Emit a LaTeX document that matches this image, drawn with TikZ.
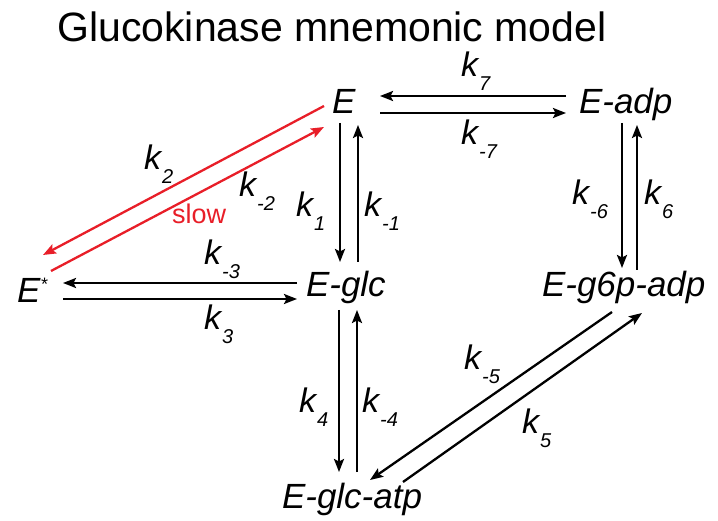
\documentclass[tikz,border=0pt]{standalone}
\usepackage{fontspec}
\setmainfont{Liberation Sans}
\usetikzlibrary{arrows.meta}
\definecolor{slowred}{RGB}{232,30,40}
\newcommand\ksub[1]{\kern1pt\raisebox{-14pt}{\fontsize{20}{20}\selectfont #1}}
\tikzset{
  species/.style={anchor=base west, inner sep=0pt, outer sep=0pt, font=\fontsize{35}{35}\selectfont\itshape},
  klab/.style={anchor=base west, inner sep=0pt, font=\fontsize{34}{34}\selectfont\itshape},
  arr/.style={line width=2.3pt, -{Stealth[length=13pt,width=10pt,inset=2.5pt]}},
  redarr/.style={arr, draw=slowred}
}
\begin{document}
\begin{tikzpicture}[x=1pt,y=-1pt]
\useasboundingbox (0,0) rectangle (718,521);
\node[anchor=base, inner sep=0pt, font=\fontsize{41}{41}\selectfont] (title) at (332,42) {Glucokinase mnemonic model};
% species
\node[species] (E) at (332,114) {E};
\node[species] (Eadp) at (579,114) {E-adp};
\node[species] (Eglc) at (306,297) {E-glc};
\node[species] (Estar) at (17,303) {E\raisebox{12pt}{\fontsize{18}{18}\selectfont *}};
\node[species] (Eg6p) at (542,297) {E-g6p-adp};
\node[species] (Eglcatp) at (282,508) {E-glc-atp};
% arrows
\draw[arr] ([shift={(-13,-18)}]Eadp.base west) -- ([shift={(48,-18)}]E.base west);
\draw[arr] ([shift={(48,-1)}]E.base west) -- ([shift={(-13,-1)}]Eadp.base west);
\draw[arr] ([shift={(8,9)}]E.base west) -- ([shift={(34,-35)}]Eglc.base west);
\draw[arr] ([shift={(52,-35)}]Eglc.base west) -- ([shift={(26,11)}]E.base west);
\draw[redarr] ([shift={(-8,-8)}]E.base west) -- ([shift={(26,-48)}]Estar.base west);
\draw[redarr] ([shift={(34,-32)}]Estar.base west) -- ([shift={(-8,13)}]E.base west);
\draw[arr] ([shift={(-9,-14)}]Eglc.base west) -- ([shift={(46,-20)}]Estar.base west);
\draw[arr] ([shift={(46,-4)}]Estar.base west) -- ([shift={(-9,2)}]Eglc.base west);
\draw[arr] ([shift={(33,13)}]Eglc.base west) -- ([shift={(57,-36)}]Eglcatp.base west);
\draw[arr] ([shift={(75,-36)}]Eglcatp.base west) -- ([shift={(51,13)}]Eglc.base west);
\draw[arr] ([shift={(70,15)}]Eg6p.base west) -- ([shift={(88,-28)}]Eglcatp.base west);
\draw[arr] ([shift={(121,-26)}]Eglcatp.base west) -- ([shift={(100,16)}]Eg6p.base west);
\draw[arr] ([shift={(43,9)}]Eadp.base west) -- ([shift={(80,-29)}]Eg6p.base west);
\draw[arr] ([shift={(95,-27)}]Eg6p.base west) -- ([shift={(58,11)}]Eadp.base west);
% rate labels
\node[klab] (k7) at (461,77) {k\ksub{7}};
\node[klab] (km7) at (461,145) {k\ksub{-7}};
\node[klab] (k1) at (296,217) {k\ksub{1}};
\node[klab] (km1) at (364,217) {k\ksub{-1}};
\node[klab] (k2) at (144,170) {k\ksub{2}};
\node[klab] (km2) at (239,197) {k\ksub{-2}};
\node[anchor=base west, inner sep=0pt, text=slowred, font=\fontsize{27}{27}\selectfont] (slow) at (172,224) {slow};
\node[klab] (km3) at (204,265) {k\ksub{-3}};
\node[klab] (k3) at (204,330) {k\ksub{3}};
\node[klab] (km6) at (572,205) {k\ksub{-6}};
\node[klab] (k6) at (644,205) {k\ksub{6}};
\node[klab] (k4) at (299,413) {k\ksub{4}};
\node[klab] (km4) at (362,413) {k\ksub{-4}};
\node[klab] (km5) at (464,370) {k\ksub{-5}};
\node[klab] (k5) at (522,433) {k\ksub{5}};
\end{tikzpicture}
\end{document}
